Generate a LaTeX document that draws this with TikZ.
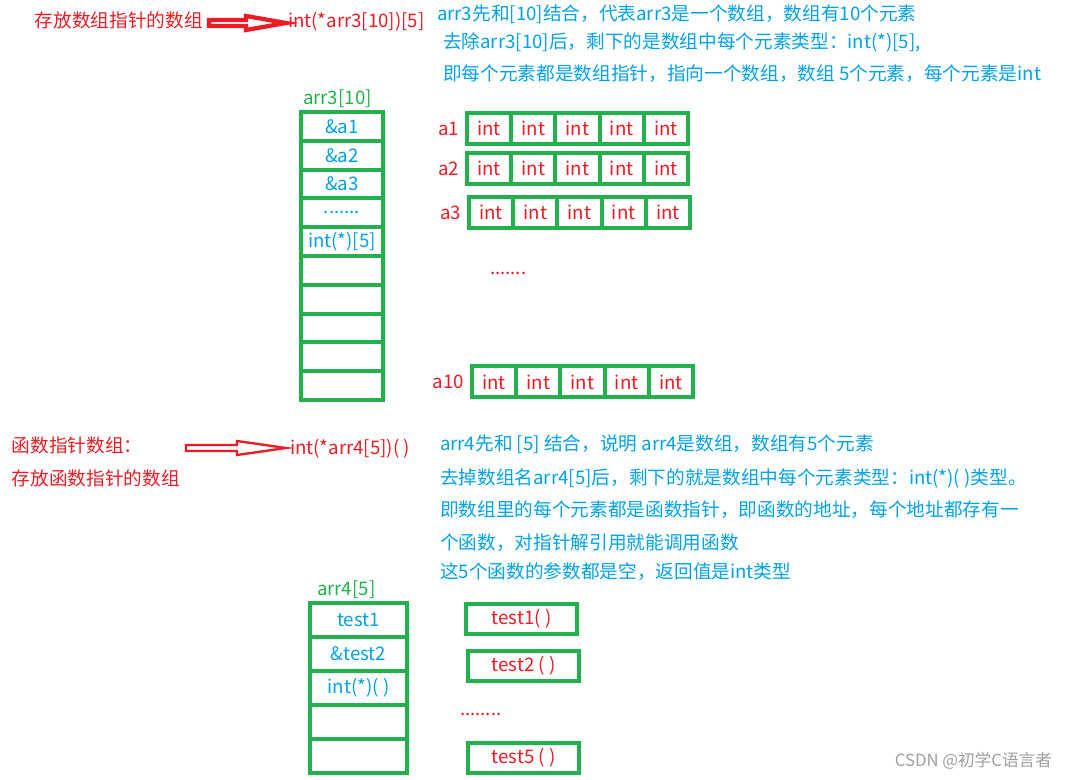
\documentclass[tikz,border=0pt]{standalone}
\usepackage{fontspec}
\setmainfont{Noto Sans CJK SC}
\usepackage{xcolor}
\usetikzlibrary{positioning,calc}
\definecolor{pred}{RGB}{237,28,36}
\definecolor{pgreen}{RGB}{34,177,76}
\definecolor{pblue}{RGB}{0,162,232}

\begin{document}
\begin{tikzpicture}[x=0.75pt, y=-0.75pt,
    every node/.style={font=\fontsize{14}{16}\selectfont, inner sep=0pt, outer sep=0pt},
    txt/.style={anchor=west, text=pred},
    note/.style={anchor=west, text=pblue},
    lbl/.style={anchor=west, text=pgreen},
    alabel/.style={text=pred},
    slot/.style={draw=pgreen, line width=3pt, fill=white, text=pblue, minimum width=61.5pt, minimum height=21.6pt},
    fslot/.style={slot, minimum width=72.75pt, minimum height=25.5pt},
    elem/.style={draw=pgreen, line width=3pt, fill=white, text=pred, minimum width=33.15pt, minimum height=23.25pt},
    fbox/.style={elem, minimum width=83.25pt, minimum height=22.5pt},
    hollow/.style={draw=pred, fill=white, line join=miter}
]
\fill[white] (0,0) rectangle (1068,780);
\useasboundingbox (0,0) rectangle (1068,780);

% ---- arr3 declaration ----
\node[txt] (d3cap) at (35,20) {存放数组指针的数组};
\coordinate (ar3) at (209,23);
\draw[hollow, line width=3.2pt] ($(ar3)+(0,-3)$) -- ++(37,0) -- ++(0,-4) -- ($(ar3)+(77,0)$) -- ($(ar3)+(37,7)$) -- ++(0,-4) -- ($(ar3)+(0,3)$) -- cycle;
\node[txt] (d3) at (288,22) {int(*arr3[10])[5]};

\node[note] (n31) at (437,14) {arr3先和[10]结合，代表arr3是一个数组，数组有10个元素};
\node[note] (n32) at (443,42) {去除arr3[10]后，剩下的是数组中每个元素类型：int(*)[5],};
\node[note] (n33) at (443,74) {即每个元素都是数组指针，指向一个数组，数组 5个元素，每个元素是int};

% ---- arr3[10] ----
\node[lbl] (arr3) at (303,99) {arr3[10]};
\node[slot] (s1) at (342,126.4) {\&a1};
\node[slot, below=0pt of s1] (s2) {\&a2};
\node[slot, below=0pt of s2] (s3) {\&a3};
\node[slot, below=0pt of s3] (s4) {.......};
\node[slot, below=0pt of s4] (s5) {int(*)[5]};
\node[slot, below=0pt of s5] (s6) {};
\node[slot, below=0pt of s6] (s7) {};
\node[slot, below=0pt of s7] (s8) {};
\node[slot, below=0pt of s8] (s9) {};
\node[slot, below=0pt of s9] (s10) {};

% ---- a1 ----
\node[elem] (a1e1) at (489.1,128.5) {int};
\node[elem, right=0pt of a1e1] (a1e2) {int};
\node[elem, right=0pt of a1e2] (a1e3) {int};
\node[elem, right=0pt of a1e3] (a1e4) {int};
\node[elem, right=0pt of a1e4] (a1e5) {int};
\node[alabel, left=6pt of a1e1] (a1) {a1};

% ---- a2 ----
\node[elem] (a2e1) at (489.1,168.5) {int};
\node[elem, right=0pt of a2e1] (a2e2) {int};
\node[elem, right=0pt of a2e2] (a2e3) {int};
\node[elem, right=0pt of a2e3] (a2e4) {int};
\node[elem, right=0pt of a2e4] (a2e5) {int};
\node[alabel, left=6pt of a2e1] (a2) {a2};

% ---- a3 ----
\node[elem] (a3e1) at (491.1,212.5) {int};
\node[elem, right=0pt of a3e1] (a3e2) {int};
\node[elem, right=0pt of a3e2] (a3e3) {int};
\node[elem, right=0pt of a3e3] (a3e4) {int};
\node[elem, right=0pt of a3e4] (a3e5) {int};
\node[alabel, left=6pt of a3e1] (a3) {a3};

\node[txt] (rdots) at (490,273) {.......};

% ---- a10 ----
\node[elem] (a10e1) at (494.1,382) {int};
\node[elem, right=0pt of a10e1] (a10e2) {int};
\node[elem, right=0pt of a10e2] (a10e3) {int};
\node[elem, right=0pt of a10e3] (a10e4) {int};
\node[elem, right=0pt of a10e4] (a10e5) {int};
\node[alabel, left=6pt of a10e1] (a10) {a10};

% ---- arr4 declaration ----
\node[txt] (d4cap) at (12,445) {函数指针数组：};
\node[txt] (d4sub) at (12,478) {存放函数指针的数组};
\coordinate (ar4) at (186,448);
\draw[hollow, line width=1.8pt] ($(ar4)+(0,-3)$) -- ++(51,0) -- ++(0,-4) -- ($(ar4)+(100,0)$) -- ($(ar4)+(51,7)$) -- ++(0,-4) -- ($(ar4)+(0,3)$) -- cycle;
\node[txt] (d4) at (290,449) {int(*arr4[5])( )};

\node[note] (n41) at (440,444) {arr4先和 [5] 结合，说明 arr4是数组，数组有5个元素};
\node[note] (n42) at (440,478) {去掉数组名arr4[5]后，剩下的就是数组中每个元素类型：int(*)( )类型。};
\node[note] (n43) at (440,510) {即数组里的每个元素都是函数指针，即函数的地址，每个地址都存有一};
\node[note] (n44) at (440,543) {个函数，对指针解引用就能调用函数};
\node[note] (n45) at (440,572) {这5个函数的参数都是空，返回值是int类型};

% ---- arr4[5] ----
\node[lbl] (arr4) at (317,590) {arr4[5]};
\node[fslot] (f1) at (358.5,620) {test1};
\node[fslot, below=0pt of f1] (f2) {\&test2};
\node[fslot, below=0pt of f2] (f3) {int(*)( )};
\node[fslot, below=0pt of f3] (f4) {};
\node[fslot, below=0pt of f4] (f5) {};

% ---- functions ----
\node[fbox] (t1) at (521.5,619) {test1( )};
\node[fbox] (t2) at (523.5,665.5) {test2 ( )};
\node[txt] (fdots) at (460,714) {........};
\node[fbox] (t5) at (523.5,758) {test5 ( )};

\node[anchor=east, text=gray!75, font=\fontsize{12.5}{15}\selectfont] (wm) at (1052,761) {CSDN @初学C语言者};
\end{tikzpicture}
\end{document}
